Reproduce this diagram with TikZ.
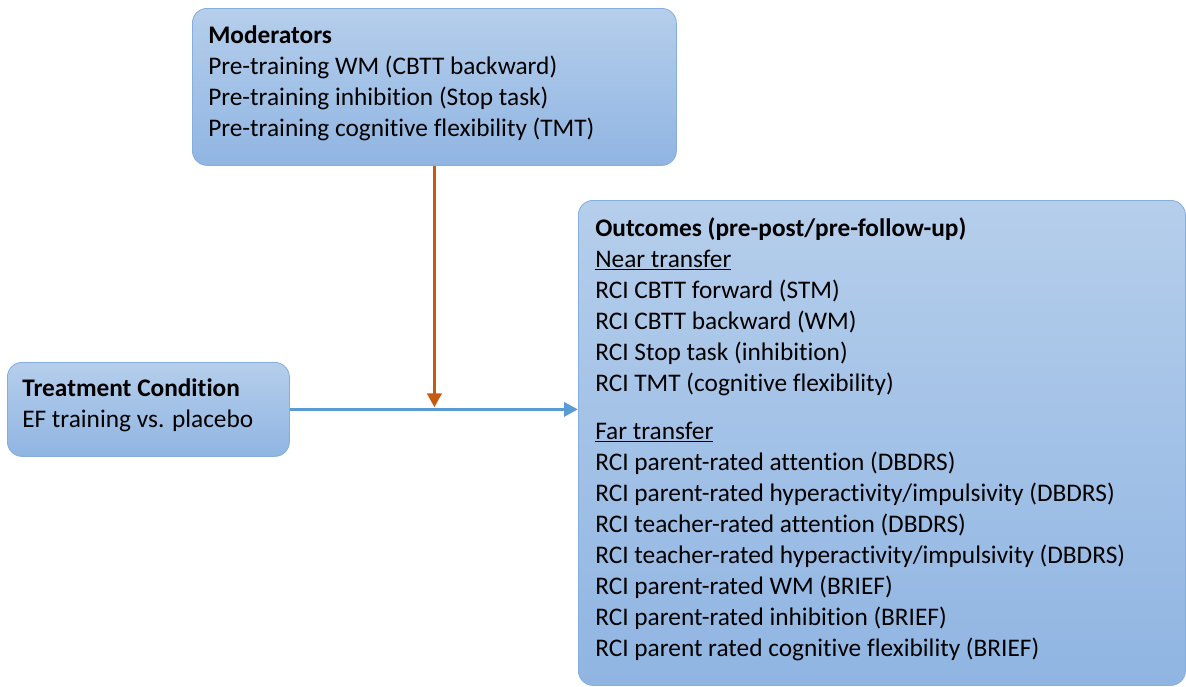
\documentclass[tikz,border=0pt]{standalone}
\usepackage{fontspec}
\setmainfont{Carlito}[Ligatures={NoCommon}]
\usepackage{xcolor}
\usepackage{tikz}
\usetikzlibrary{arrows.meta,positioning,calc}
\definecolor{boxtop}{HTML}{B5CEEB}
\definecolor{boxbot}{HTML}{90B5E2}
\definecolor{boxline}{HTML}{86ADDC}
\definecolor{flowblue}{HTML}{5B9BD5}
\definecolor{modorange}{HTML}{C55A11}
\tikzset{
  panelbox/.style={
    rectangle, rounded corners=11pt, draw=boxline, line width=0.6pt,
    top color=boxtop, bottom color=boxbot,
    minimum width=#1, inner sep=0pt
  },
  paneltext/.style={
    anchor=north west, align=left, inner sep=0pt,
    font=\fontsize{19pt}{23.25pt}\selectfont
  },
  flowarrow/.style={
    -{Triangle[length=10.5pt,width=10.5pt]}, line width=2.7pt, color=#1
  },
  flowarrow/.default=flowblue,
}

\begin{document}
\begin{tikzpicture}[x=0.75pt, y=-0.75pt]
  \useasboundingbox (0,0) rectangle (1186,686);

  % boxes
  \node[panelbox=363pt, minimum height=117.75pt, anchor=north west]
    (mod) at (192,8) {};
  \node[panelbox=211.5pt, minimum height=70.5pt, anchor=north west]
    (treat) at (7,362) {};
  \node[panelbox=455.25pt, minimum height=363.75pt, anchor=north west]
    (out) at (578,200) {};

  % texts
  \node[paneltext] (modtxt) at (208,25) {%
    \textbf{Moderators}\\
    Pre-training WM (CBTT backward)\\
    Pre-training inhibition (Stop task)\\
    Pre-training cognitive flexibility (TMT)};
  \node[paneltext] (treattxt) at (22,378) {%
    \textbf{Treatment Condition}\\
    EF training vs. placebo};
  \node[paneltext] (outtxt) at (595,217) {%
    \textbf{Outcomes (pre-post/pre-follow-up)}\\
    \underline{Near transfer}\\
    RCI CBTT forward (STM)\\
    RCI CBTT backward (WM)\\
    RCI Stop task (inhibition)\\
    RCI TMT (cognitive flexibility)\\[12.75pt]
    \underline{Far transfer}\\
    RCI parent-rated attention (DBDRS)\\
    RCI parent-rated hyperactivity/impulsivity (DBDRS)\\
    RCI teacher-rated attention (DBDRS)\\
    RCI teacher-rated hyperactivity/impulsivity (DBDRS)\\
    RCI parent-rated WM (BRIEF)\\
    RCI parent-rated inhibition (BRIEF)\\
    RCI parent rated cognitive flexibility (BRIEF)};

  % connectors
  \coordinate (meet) at ($(mod.south |- treat.east)+(0,-2)$);
  \draw[flowarrow] (treat.east) -- (treat.east -| out.west);
  \draw[flowarrow=modorange] (mod.south) -- (meet);
\end{tikzpicture}
\end{document}
